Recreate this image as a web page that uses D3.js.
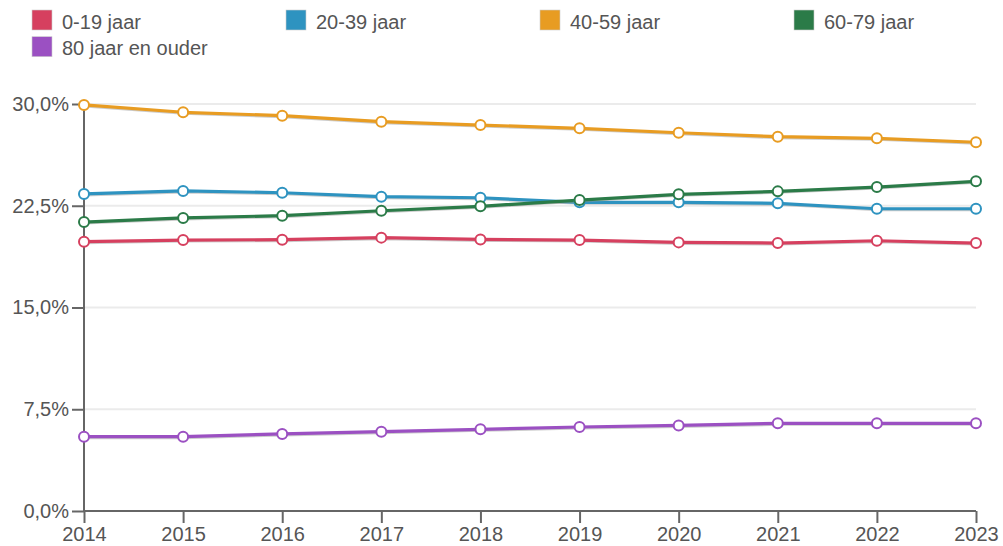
<!DOCTYPE html>
<html><head><meta charset="utf-8">
<script src="https://cdn.jsdelivr.net/npm/d3@7"></script>
<style>
body{margin:0;background:#fff;font-family:"Liberation Sans",Arial,sans-serif;}
svg{display:block}
</style></head><body>
<svg id="c" width="1003" height="546"></svg>
<script>
const years = [2014,2015,2016,2017,2018,2019,2020,2021,2022,2023];
const seriesNames = ["0-19 jaar","20-39 jaar","40-59 jaar","60-79 jaar","80 jaar en ouder"];
const colors = ["#d6405f","#2e93c0","#e89c22","#2b7b48","#9b50c2"];
const v0_19 = [19.85,19.97,20.0,20.15,20.02,19.97,19.8,19.75,19.92,19.75];
const v20_39 = [23.37,23.59,23.46,23.17,23.09,22.75,22.75,22.68,22.28,22.28];
const v40_59 = [29.93,29.39,29.14,28.7,28.45,28.21,27.88,27.59,27.47,27.18];
const v60_79 = [21.3,21.6,21.77,22.13,22.46,22.92,23.34,23.56,23.88,24.3];
const v80 = [5.48,5.48,5.68,5.85,6.02,6.19,6.31,6.46,6.46,6.46];
const yTicks = [0,7.5,15,22.5,30];

const values = [v0_19,v20_39,v40_59,v60_79,v80];
const svg = d3.select("#c");
const x = d3.scaleLinear().domain([2014,2023]).range([84,976]);
const y = d3.scaleLinear().domain([0,30]).range([511,104]);
const fmt = d => d3.format(".1f")(d).replace(".",",")+"%";

// grid
svg.append("g").selectAll("line").data(yTicks.slice(1)).join("line")
  .attr("x1",84).attr("x2",976).attr("y1",d=>y(d)).attr("y2",d=>y(d))
  .attr("stroke","#ebebeb").attr("stroke-width",2);

// axes
const ya = svg.append("g").attr("transform","translate(84,0)")
  .call(d3.axisLeft(y).tickValues(yTicks).tickFormat(fmt).tickSize(12).tickPadding(3));
const xa = svg.append("g").attr("transform","translate(0,511)")
  .call(d3.axisBottom(x).tickValues(years).tickFormat(d3.format("d")).tickSize(12).tickPadding(4));
[ya,xa].forEach(a=>{
  a.selectAll("path,line").attr("stroke","#666").attr("stroke-width",2);
  a.select(".domain").attr("d", a===ya ? "M0,511V104" : "M84,0H976");
  a.selectAll("text").attr("fill","#555").style("font-size","20px").style("font-family","'Liberation Sans', Arial, sans-serif");
});

// lines
const line = d3.line().x((d,i)=>x(years[i])).y(d=>y(d));
const g = svg.append("g");
values.forEach((vals,k)=>{
  g.append("path").attr("d",line(vals)).attr("fill","none")
    .attr("stroke","#999").attr("stroke-width",3).attr("opacity",0.5)
    .attr("transform","translate(0.5,1)");
  g.append("path").attr("d",line(vals)).attr("fill","none")
    .attr("stroke",colors[k]).attr("stroke-width",3.2).attr("stroke-linejoin","round");
});
values.forEach((vals,k)=>{
  g.append("g").selectAll("circle").data(vals).join("circle")
    .attr("cx",(d,i)=>x(years[i])).attr("cy",d=>y(d)).attr("r",5)
    .attr("fill","#fff").attr("stroke",colors[k]).attr("stroke-width",2);
});

// legend
const leg = svg.append("g");
seriesNames.forEach((n,k)=>{
  const col = k%4, row = Math.floor(k/4);
  const lx = 32 + col*254, ly = 10 + row*26.7;
  leg.append("rect").attr("x",lx).attr("y",ly).attr("width",20).attr("height",20)
    .attr("fill",colors[k]).attr("stroke","#ccc").attr("stroke-width",0.6);
  leg.append("text").attr("x",lx+30).attr("y",ly+18.5).text(n)
    .attr("fill","#555").style("font-size","20px");
});
</script></body></html>
